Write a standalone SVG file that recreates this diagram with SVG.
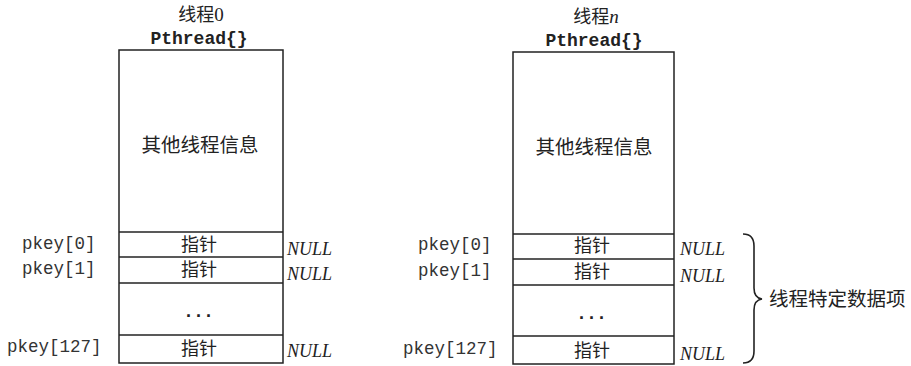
<svg xmlns="http://www.w3.org/2000/svg" width="911" height="366" viewBox="0 0 911 366">
<style>
.box{fill:none;stroke:#222;stroke-width:1.5}
.ln{stroke:#222;stroke-width:1.5}
.cjk{font-family:"Noto Sans CJK SC",sans-serif;font-size:18px;fill:#222}
.big{font-size:19.5px}
.ttl{font-family:"Noto Sans CJK SC",sans-serif;font-size:18px;fill:#222}
.ser{font-family:"Liberation Serif",serif;font-size:19px}
.pt{font-family:"Liberation Mono",monospace;font-weight:bold;font-size:18px;fill:#222}
.pk{font-family:"Liberation Mono",monospace;font-size:17.5px;fill:#333}
.nul{font-family:"Liberation Serif",serif;font-style:italic;font-size:18px;fill:#222}
.dots{font-family:"Liberation Sans",sans-serif;font-size:18px;fill:#222;font-weight:bold;letter-spacing:5px}
</style>
<rect width="911" height="366" fill="#fff"/>
<g id="thread0">
<text class="ttl" x="201" y="21" text-anchor="middle">线程<tspan class="ser">0</tspan></text>
<text class="pt" x="199" y="44" text-anchor="middle">Pthread{}</text>
<rect class="box" x="119" y="50" width="164" height="313"/>
<line class="ln" x1="119" y1="232" x2="283" y2="232"/>
<line class="ln" x1="119" y1="257" x2="283" y2="257"/>
<line class="ln" x1="119" y1="283" x2="283" y2="283"/>
<line class="ln" x1="119" y1="335" x2="283" y2="335"/>
<text class="cjk big" x="200" y="152" text-anchor="middle">其他线程信息</text>
<text class="cjk" x="199" y="251" text-anchor="middle">指针</text>
<text class="cjk" x="199" y="276" text-anchor="middle">指针</text>
<text class="cjk" x="199" y="355" text-anchor="middle">指针</text>
<text class="dots" x="201" y="317" text-anchor="middle">...</text>
<text class="pk" x="22" y="249">pkey[0]</text>
<text class="pk" x="22" y="274">pkey[1]</text>
<text class="pk" x="7" y="352">pkey[127]</text>
<text class="nul" x="287" y="255">NULL</text>
<text class="nul" x="287" y="280">NULL</text>
<text class="nul" x="287" y="357">NULL</text>
</g>
<g id="threadn">
<text class="ttl" x="596" y="23" text-anchor="middle">线程<tspan class="ser" font-style="italic">n</tspan></text>
<text class="pt" x="594" y="46" text-anchor="middle">Pthread{}</text>
<rect class="box" x="513" y="52" width="161" height="312"/>
<line class="ln" x1="513" y1="234" x2="674" y2="234"/>
<line class="ln" x1="513" y1="259" x2="674" y2="259"/>
<line class="ln" x1="513" y1="285" x2="674" y2="285"/>
<line class="ln" x1="513" y1="336" x2="674" y2="336"/>
<text class="cjk big" x="594" y="154" text-anchor="middle">其他线程信息</text>
<text class="cjk" x="592" y="252" text-anchor="middle">指针</text>
<text class="cjk" x="592" y="278" text-anchor="middle">指针</text>
<text class="cjk" x="592" y="357" text-anchor="middle">指针</text>
<text class="dots" x="594" y="319" text-anchor="middle">...</text>
<text class="pk" x="418" y="250">pkey[0]</text>
<text class="pk" x="418" y="276">pkey[1]</text>
<text class="pk" x="403" y="354">pkey[127]</text>
<text class="nul" x="680" y="255">NULL</text>
<text class="nul" x="680" y="282">NULL</text>
<text class="nul" x="680" y="360">NULL</text>
</g>
<g id="brace">
<path d="M743,234 Q754,234 754,246 L754,288 Q754,298 762,299 Q754,300 754,310 L754,351 Q754,363 743,363" fill="none" stroke="#222" stroke-width="1.6"/>
<text class="cjk big" x="769" y="306">线程特定数据项</text>
</g>
</svg>
